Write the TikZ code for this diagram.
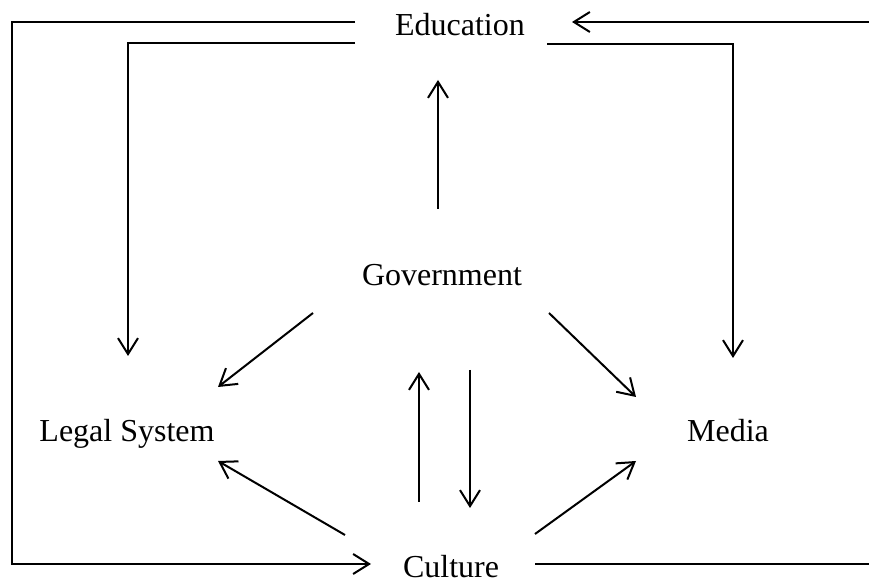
\documentclass[tikz,border=0pt]{standalone}
\usepackage{fontspec}
\setmainfont{Liberation Serif}
\usetikzlibrary{arrows.meta, positioning}

\begin{document}
\begin{tikzpicture}
[x=0.5pt, y=-0.5pt,
label/.style={inner sep=0pt, anchor=base, font=\fontsize{16}{19}\selectfont},
line/.style={line width=1pt},
arrow/.style={line, -{Straight Barb[length=8pt, width=10pt]}},]
\useasboundingbox (0,0) rectangle (869,582);

\node (edu) [label] at (460,36) {Education};
\node (gov) [label] at (442,286) {Government};
\node (legal) [label] at (127,442) {Legal System};
\node (media) [label] at (728,442) {Media};
\node (cult) [label] at (451,578) {Culture};

% ends of the connectors
\coordinate (eduL1) at (355,22);
\coordinate (eduL2) at (355,43);
\coordinate (eduR1) at (572,22);
\coordinate (eduR2) at (547,44);
\coordinate (eduIn) at (438,80);
\coordinate (outR1) at (869,22);
\coordinate (outR2) at (869,564);
\coordinate (cornL) at (12,22);
\coordinate (legalTop) at (128,356);
\coordinate (mediaTop) at (733,358);
\coordinate (govUp) at (438,209);
\coordinate (govL) at (313,313);
\coordinate (govR) at (549,313);
\coordinate (govDn) at (470,370);
\coordinate (govIn) at (419,372);
\coordinate (legalUp) at (218,387);
\coordinate (legalDn) at (218,461);
\coordinate (mediaUp) at (636,397);
\coordinate (mediaDn) at (636,461);
\coordinate (cultL) at (371,564);
\coordinate (cultR) at (535,564);
\coordinate (cultUp) at (419,502);
\coordinate (cultIn) at (470,508);
\coordinate (cultNW) at (345,535);
\coordinate (cultNE) at (535,534);

\draw [arrow] (eduL1) -- (cornL) |- (cultL);
\draw [arrow] (eduL2) -| (legalTop);
\draw [arrow] (outR1) -- (eduR1);
\draw [arrow] (eduR2) -| (mediaTop);
\draw [line] (cultR) -- (outR2);

\draw [arrow] (govUp) -- (eduIn);
\draw [arrow] (govL) -- (legalUp);
\draw [arrow] (govR) -- (mediaUp);
\draw [arrow] (govDn) -- (cultIn);
\draw [arrow] (cultUp) -- (govIn);
\draw [arrow] (cultNW) -- (legalDn);
\draw [arrow] (cultNE) -- (mediaDn);
\end{tikzpicture}
\end{document}
